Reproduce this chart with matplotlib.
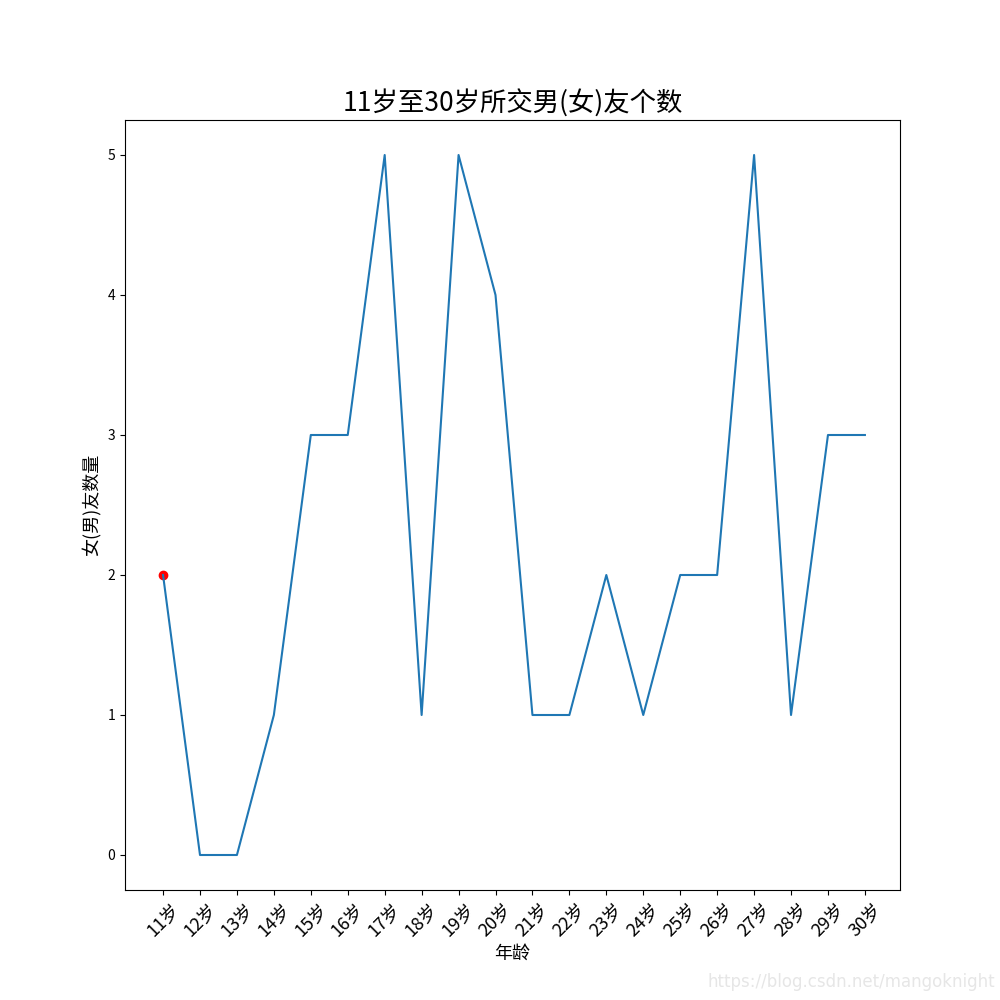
import matplotlib
matplotlib.use("Agg")
import matplotlib.pyplot as plt

plt.rcParams['font.family'] = ['Noto Sans CJK SC', 'DejaVu Sans']
plt.rcParams['axes.unicode_minus'] = False

# data
ages = list(range(11, 31))
counts = [2, 0, 0, 1, 3, 3, 5, 1, 5, 4, 1, 1, 2, 1, 2, 2, 5, 1, 3, 3]
age_labels = ["{}岁".format(a) for a in ages]

fig = plt.figure(figsize=(10, 10), dpi=100)
plt.plot(ages, counts)
plt.scatter(ages[0], counts[0], color='red')

# the marker pushed the left limit out a little in the original
plt.xlim(ages[0] - 1.03, ages[-1] + 0.95)

plt.xticks(ages, age_labels, rotation=45, fontsize=13)
plt.xlabel("年龄", fontsize=13)
plt.ylabel("女(男)友数量", fontsize=13)
plt.title("11岁至30岁所交男(女)友个数", fontsize=19)

fig.text(0.995, 0.018, "https://blog.csdn.net/mangoknight", ha='right', va='center',
         fontsize=12, color='#e6e6e6', family='DejaVu Sans')

plt.savefig("out.png")
